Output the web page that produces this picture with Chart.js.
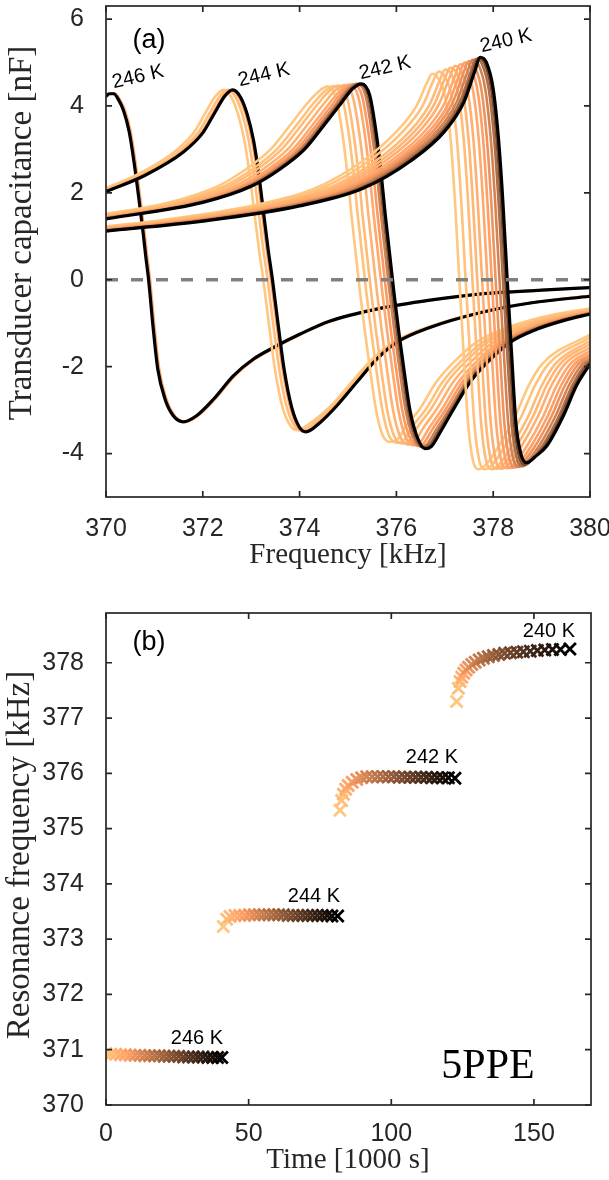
<!DOCTYPE html>
<html><head><meta charset="utf-8">
<script src="https://cdn.jsdelivr.net/npm/chart.js@4.4.1/dist/chart.umd.min.js"></script>
<style>
html,body{margin:0;padding:0;background:#fff;}
#wrap{position:relative;width:609px;height:1180px;overflow:hidden;background:#fff;}
canvas{position:absolute;left:0;}
#ca{top:0;} #cb{top:590px;}
</style></head><body>
<div id="wrap"><canvas id="ca" width="609" height="590"></canvas><canvas id="cb" width="609" height="590"></canvas></div>
<script>
// ---------- tick labels ----------
const freqTicks=[370,372,374,376,378,380];
const capTicks=[-4,-2,0,2,4,6];
const timeTicks=[0,50,100,150];
const resTicks=[370,371,372,373,374,375,376,377,378];

// ---------- panel (a): capacitance sweeps (frequency kHz / capacitance nF) ----------
// 246 K
const f246=[
 [370.00,370.09,370.19,370.29,370.39,370.51,370.61,370.71,370.80,370.85,370.91,371.00,371.10,371.25,371.42,371.63,371.90,372.25,372.66,373.07,373.49,374.04,374.66,375.69,376.72,377.83,379.03,380.00],
 [370.00,370.06,370.16,370.26,370.36,370.48,370.58,370.68,370.77,370.82,370.88,370.97,371.07,371.22,371.39,371.60,371.87,372.22,372.63,373.04,373.46,374.01,374.63,375.66,376.69,377.80,379.00,380.00]];
const c246=[
 [4.20,4.28,4.28,4.14,3.90,3.40,2.70,1.86,1.05,0.55,0.00,-1.06,-2.06,-2.75,-3.13,-3.27,-3.13,-2.75,-2.21,-1.83,-1.56,-1.25,-0.95,-0.66,-0.47,-0.32,-0.24,-0.18],
 [4.22,4.28,4.28,4.14,3.90,3.40,2.70,1.86,1.05,0.55,0.00,-1.06,-2.06,-2.75,-3.13,-3.27,-3.13,-2.75,-2.21,-1.83,-1.56,-1.25,-0.95,-0.66,-0.47,-0.32,-0.24,-0.18]];
const shade246=[0.85,0];

// 244 K
const f244=[
 [369.81,370.61,371.41,371.81,372.06,372.26,372.43,372.59,372.73,372.86,372.97,373.07,373.16,373.25,373.37,373.49,373.65,373.81,373.94,374.28,374.65,375.07,375.50,375.93,376.63,377.68,378.76,380.00],
 [369.90,370.70,371.50,371.90,372.15,372.35,372.52,372.68,372.82,372.95,373.06,373.16,373.25,373.34,373.46,373.58,373.74,373.90,374.03,374.35,374.71,375.13,375.55,375.97,376.66,377.71,378.78,380.00],
 [369.97,370.77,371.57,371.97,372.22,372.42,372.59,372.75,372.89,373.02,373.13,373.23,373.32,373.41,373.53,373.65,373.81,373.97,374.10,374.40,374.76,375.17,375.58,376.00,376.69,377.73,378.80,380.00],
 [370.00,370.80,371.60,372.00,372.25,372.45,372.62,372.78,372.92,373.05,373.16,373.26,373.35,373.44,373.56,373.68,373.84,374.00,374.13,374.42,374.77,375.18,375.59,376.01,376.69,377.73,378.80,380.00]];
const c244=[
 [2.03,2.40,2.94,3.38,3.85,4.22,4.37,4.20,3.80,3.20,2.40,1.50,0.70,0.00,-1.06,-2.06,-2.95,-3.36,-3.46,-3.25,-2.90,-2.36,-1.83,-1.44,-1.10,-0.76,-0.53,-0.37],
 [2.03,2.40,2.94,3.38,3.85,4.22,4.37,4.20,3.80,3.20,2.40,1.50,0.70,0.00,-1.06,-2.06,-2.95,-3.37,-3.47,-3.26,-2.90,-2.36,-1.83,-1.44,-1.10,-0.76,-0.53,-0.37],
 [2.03,2.40,2.94,3.38,3.85,4.22,4.37,4.20,3.80,3.20,2.40,1.50,0.70,0.00,-1.06,-2.06,-2.95,-3.40,-3.50,-3.29,-2.90,-2.36,-1.83,-1.44,-1.10,-0.76,-0.53,-0.38],
 [2.03,2.40,2.94,3.38,3.85,4.22,4.37,4.20,3.80,3.20,2.40,1.50,0.70,0.00,-1.06,-2.06,-2.95,-3.40,-3.50,-3.29,-2.90,-2.36,-1.83,-1.44,-1.10,-0.76,-0.53,-0.38]];
const shade244=[1.0,0.95,0.8,0];

// 242 K
const f242=[
 [369.30,371.30,372.30,372.90,373.40,373.80,374.15,374.40,374.58,374.75,374.88,374.98,375.07,375.17,375.25,375.35,375.46,375.58,375.72,375.89,376.02,376.20,376.48,376.82,377.20,377.65,378.20,378.75,379.30,380],
 [369.43,371.43,372.43,373.03,373.53,373.93,374.28,374.53,374.71,374.88,375.01,375.11,375.20,375.30,375.38,375.48,375.59,375.71,375.85,376.02,376.15,376.33,376.61,376.95,377.33,377.78,378.33,378.88,379.43,380],
 [369.53,371.53,372.53,373.13,373.63,374.03,374.38,374.63,374.81,374.98,375.11,375.21,375.30,375.40,375.48,375.58,375.69,375.81,375.95,376.12,376.25,376.43,376.71,377.05,377.43,377.88,378.43,378.98,379.53,380],
 [369.65,371.65,372.65,373.25,373.75,374.15,374.50,374.75,374.93,375.10,375.23,375.33,375.42,375.52,375.60,375.70,375.81,375.93,376.07,376.24,376.37,376.55,376.83,377.17,377.55,378.00,378.55,379.10,379.65,380],
 [369.76,371.76,372.76,373.36,373.86,374.26,374.61,374.86,375.04,375.21,375.34,375.44,375.53,375.63,375.71,375.81,375.92,376.04,376.18,376.35,376.48,376.66,376.94,377.28,377.66,378.11,378.66,379.21,379.76,380],
 [369.84,371.84,372.84,373.44,373.94,374.34,374.69,374.94,375.12,375.29,375.42,375.52,375.61,375.71,375.79,375.89,376.00,376.12,376.26,376.43,376.56,376.74,377.02,377.36,377.74,378.19,378.74,379.29,379.84,380],
 [369.91,371.91,372.91,373.51,374.01,374.41,374.76,375.01,375.19,375.36,375.49,375.59,375.68,375.78,375.86,375.96,376.07,376.19,376.33,376.50,376.63,376.81,377.09,377.43,377.81,378.26,378.81,379.36,379.91,380],
 [369.96,371.96,372.96,373.56,374.06,374.46,374.81,375.06,375.24,375.41,375.54,375.64,375.73,375.83,375.91,376.01,376.12,376.24,376.38,376.55,376.68,376.86,377.14,377.48,377.86,378.31,378.86,379.41,379.96,380],
 [370.00,372.00,373.00,373.60,374.10,374.50,374.85,375.10,375.28,375.45,375.58,375.68,375.77,375.87,375.95,376.05,376.16,376.28,376.42,376.59,376.72,376.90,377.18,377.52,377.90,378.35,378.90,379.45,380.00]];
const c242=[
 [1.40,1.78,2.15,2.55,3.00,3.55,4.05,4.34,4.45,4.18,3.40,2.50,1.50,0.50,-0.30,-1.20,-2.10,-3.00,-3.59,-3.73,-3.68,-3.36,-2.98,-2.36,-1.88,-1.44,-1.14,-0.94,-0.79,-0.66],
 [1.40,1.78,2.15,2.55,3.00,3.55,4.05,4.35,4.46,4.19,3.40,2.50,1.50,0.50,-0.30,-1.20,-2.10,-3.00,-3.59,-3.75,-3.70,-3.38,-2.98,-2.36,-1.88,-1.44,-1.14,-0.94,-0.79,-0.69],
 [1.40,1.78,2.15,2.55,3.00,3.55,4.05,4.36,4.47,4.20,3.40,2.50,1.50,0.50,-0.30,-1.20,-2.10,-3.00,-3.59,-3.77,-3.72,-3.40,-2.98,-2.36,-1.88,-1.44,-1.14,-0.94,-0.79,-0.71],
 [1.40,1.78,2.15,2.55,3.00,3.55,4.05,4.37,4.48,4.21,3.40,2.50,1.50,0.50,-0.30,-1.20,-2.10,-3.00,-3.59,-3.79,-3.74,-3.42,-2.98,-2.36,-1.88,-1.44,-1.14,-0.94,-0.79,-0.73],
 [1.40,1.78,2.15,2.55,3.00,3.55,4.05,4.38,4.49,4.22,3.40,2.50,1.50,0.50,-0.30,-1.20,-2.10,-3.00,-3.59,-3.81,-3.76,-3.44,-2.98,-2.36,-1.88,-1.44,-1.14,-0.94,-0.79,-0.75],
 [1.40,1.78,2.15,2.55,3.00,3.55,4.05,4.39,4.50,4.23,3.40,2.50,1.50,0.50,-0.30,-1.20,-2.10,-3.00,-3.59,-3.82,-3.77,-3.45,-2.98,-2.36,-1.88,-1.44,-1.14,-0.94,-0.79,-0.76],
 [1.40,1.78,2.15,2.55,3.00,3.55,4.05,4.40,4.51,4.24,3.40,2.50,1.50,0.50,-0.30,-1.20,-2.10,-3.00,-3.59,-3.84,-3.79,-3.47,-2.98,-2.36,-1.88,-1.44,-1.14,-0.94,-0.79,-0.77],
 [1.40,1.78,2.15,2.55,3.00,3.55,4.05,4.40,4.51,4.24,3.40,2.50,1.50,0.50,-0.30,-1.20,-2.10,-3.00,-3.59,-3.86,-3.81,-3.49,-2.98,-2.36,-1.88,-1.44,-1.14,-0.94,-0.79,-0.78],
 [1.40,1.78,2.15,2.55,3.00,3.55,4.05,4.40,4.51,4.24,3.40,2.50,1.50,0.50,-0.30,-1.20,-2.10,-3.00,-3.59,-3.89,-3.84,-3.52,-2.98,-2.36,-1.88,-1.44,-1.14,-0.94,-0.79]];
const shade242=[1.0,0.97,0.94,0.90,0.85,0.78,0.65,0.45,0];

// 240 K
const f240=[
 [369.01,371.01,373.01,374.31,375.31,376.01,376.41,376.63,376.74,376.87,377.01,377.12,377.21,377.30,377.39,377.48,377.58,377.70,377.87,378.12,378.46,378.73,379.01,380],
 [369.14,371.14,373.14,374.44,375.44,376.14,376.54,376.76,376.87,377.00,377.14,377.25,377.34,377.43,377.52,377.61,377.71,377.83,378.00,378.25,378.59,378.86,379.14,380],
 [369.28,371.28,373.28,374.58,375.58,376.28,376.68,376.90,377.01,377.14,377.28,377.39,377.48,377.57,377.66,377.75,377.85,377.97,378.14,378.39,378.73,379.00,379.28,380],
 [369.38,371.38,373.38,374.68,375.68,376.38,376.78,377.00,377.11,377.24,377.38,377.49,377.58,377.67,377.76,377.85,377.95,378.07,378.24,378.49,378.83,379.10,379.38,380],
 [369.48,371.48,373.48,374.78,375.78,376.48,376.88,377.10,377.21,377.34,377.48,377.59,377.68,377.77,377.86,377.95,378.05,378.17,378.34,378.59,378.93,379.20,379.48,380],
 [369.59,371.59,373.59,374.89,375.89,376.59,376.99,377.21,377.32,377.45,377.59,377.70,377.79,377.88,377.97,378.06,378.16,378.28,378.45,378.70,379.04,379.31,379.59,380],
 [369.68,371.68,373.68,374.98,375.98,376.68,377.08,377.30,377.41,377.54,377.68,377.79,377.88,377.97,378.06,378.15,378.25,378.37,378.54,378.79,379.13,379.40,379.68,380],
 [369.76,371.76,373.76,375.06,376.06,376.76,377.16,377.38,377.49,377.62,377.76,377.87,377.96,378.05,378.14,378.23,378.33,378.45,378.62,378.87,379.21,379.48,379.76,380],
 [369.84,371.84,373.84,375.14,376.14,376.84,377.24,377.46,377.57,377.70,377.84,377.95,378.04,378.13,378.22,378.31,378.41,378.53,378.70,378.95,379.29,379.56,379.84,380],
 [369.91,371.91,373.91,375.21,376.21,376.91,377.31,377.53,377.64,377.77,377.91,378.02,378.11,378.20,378.29,378.38,378.48,378.60,378.77,379.02,379.36,379.63,379.91,380],
 [369.96,371.96,373.96,375.26,376.26,376.96,377.36,377.58,377.69,377.82,377.96,378.07,378.16,378.25,378.34,378.43,378.53,378.65,378.82,379.07,379.41,379.68,379.96,380],
 [370.00,372.00,374.00,375.30,376.30,377.00,377.40,377.62,377.73,377.86,378.00,378.11,378.20,378.29,378.38,378.47,378.57,378.69,378.86,379.11,379.45,379.72,380.00]];
const c240=[
 [1.12,1.35,1.70,2.10,2.74,3.42,3.99,4.53,4.74,4.62,4.20,3.24,1.80,0,-1.70,-3.30,-4.15,-4.36,-4.23,-3.82,-3.13,-2.44,-1.94,-1.26],
 [1.12,1.35,1.70,2.10,2.74,3.42,4.00,4.57,4.79,4.67,4.23,3.24,1.80,0,-1.70,-3.30,-4.15,-4.36,-4.23,-3.82,-3.13,-2.44,-1.94,-1.33],
 [1.12,1.35,1.70,2.10,2.74,3.42,4.02,4.60,4.84,4.72,4.25,3.24,1.80,0,-1.70,-3.30,-4.15,-4.36,-4.23,-3.82,-3.13,-2.44,-1.94,-1.41],
 [1.12,1.35,1.70,2.10,2.74,3.42,4.03,4.63,4.88,4.76,4.27,3.24,1.80,0,-1.70,-3.30,-4.14,-4.35,-4.22,-3.82,-3.13,-2.44,-1.94,-1.48],
 [1.12,1.35,1.70,2.10,2.74,3.42,4.04,4.66,4.92,4.80,4.29,3.24,1.80,0,-1.70,-3.30,-4.14,-4.35,-4.22,-3.82,-3.13,-2.44,-1.94,-1.56],
 [1.12,1.35,1.70,2.10,2.74,3.42,4.05,4.69,4.96,4.84,4.31,3.24,1.80,0,-1.70,-3.30,-4.13,-4.34,-4.21,-3.82,-3.13,-2.44,-1.94,-1.64],
 [1.12,1.35,1.70,2.10,2.74,3.42,4.06,4.72,5.00,4.88,4.33,3.24,1.80,0,-1.70,-3.30,-4.12,-4.33,-4.20,-3.82,-3.13,-2.44,-1.94,-1.71],
 [1.12,1.35,1.70,2.10,2.74,3.42,4.07,4.74,5.03,4.91,4.35,3.24,1.80,0,-1.70,-3.30,-4.11,-4.32,-4.19,-3.82,-3.13,-2.44,-1.94,-1.77],
 [1.12,1.35,1.70,2.10,2.74,3.42,4.08,4.76,5.06,4.94,4.36,3.24,1.80,0,-1.70,-3.30,-4.10,-4.31,-4.18,-3.82,-3.13,-2.44,-1.94,-1.83],
 [1.12,1.35,1.70,2.10,2.74,3.42,4.09,4.77,5.08,4.96,4.37,3.24,1.80,0,-1.70,-3.30,-4.08,-4.29,-4.16,-3.82,-3.13,-2.44,-1.94,-1.88],
 [1.12,1.35,1.70,2.10,2.74,3.42,4.09,4.79,5.10,4.98,4.38,3.24,1.80,0,-1.70,-3.30,-4.05,-4.26,-4.13,-3.82,-3.13,-2.44,-1.94,-1.91],
 [1.12,1.35,1.70,2.10,2.74,3.42,4.10,4.80,5.12,5.00,4.39,3.24,1.80,0.00,-1.70,-3.30,-4.00,-4.21,-4.08,-3.82,-3.13,-2.44,-1.94]];
const shade240=[1.0,0.97,0.94,0.91,0.88,0.85,0.80,0.74,0.66,0.55,0.38,0];

// ---------- panel (b): resonance frequency vs time ----------
const time246=[0,1.7,3.4,5.1,6.8,8.5,10.2,11.9,13.6,15.3,17,18.7,20.4,22.1,23.8,25.5,27.2,28.9,30.6,32.3,34,35.7,37.4,39.1,40.6];
const res246=[370.93,370.92,370.92,370.91,370.91,370.90,370.90,370.90,370.89,370.89,370.89,370.89,370.88,370.88,370.88,370.88,370.87,370.87,370.87,370.87,370.87,370.86,370.86,370.86,370.86];
const time244=[41.1,42.3,43.5,45.2,46.9,48.6,50.3,52.0,53.7,55.4,57.1,58.8,60.5,62.2,63.9,65.6,67.3,69.0,70.7,72.4,74.1,75.8,77.5,79.2,81.2];
const res244=[373.23,373.36,373.41,373.43,373.43,373.43,373.44,373.44,373.44,373.44,373.44,373.44,373.44,373.44,373.43,373.43,373.43,373.43,373.43,373.43,373.43,373.43,373.43,373.42,373.42];
const time242=[82.0,82.6,83.2,84.0,84.9,86.3,87.9,89.6,91.4,93.3,95.2,97.1,99.0,100.9,102.8,104.7,106.6,108.5,110.4,112.3,114.2,116.1,118.0,120.0,122.3];
const res242=[375.33,375.51,375.62,375.71,375.78,375.84,375.89,375.92,375.94,375.94,375.94,375.94,375.94,375.94,375.93,375.93,375.93,375.93,375.93,375.93,375.92,375.92,375.92,375.92,375.91];
const time240=[122.9,123.5,124.1,124.7,125.4,126.2,127.1,128.2,129.4,130.8,132.3,134.0,135.8,137.7,139.7,141.8,144.0,146.3,148.7,151.2,153.8,156.5,159.3,162.6];
const res240=[377.30,377.54,377.66,377.74,377.81,377.87,377.92,377.97,378.01,378.05,378.08,378.11,378.13,378.15,378.17,378.18,378.19,378.20,378.21,378.22,378.23,378.24,378.24,378.25];

// ---------- helpers ----------
function copper(v){
  const r=Math.min(1,1.25*v), g=0.7812*v, b=0.4975*v;
  return 'rgb('+Math.round(r*255)+','+Math.round(g*255)+','+Math.round(b*255)+')';
}
const AX='#262626';
const sans='"Liberation Sans", Arial, sans-serif';
const serif='"Liberation Serif", "Times New Roman", serif';

const boxPlugin={
  id:'boxPlugin',
  afterDatasetsDraw(chart,args,opts){
    const ctx=chart.ctx, a=chart.chartArea, ys=chart.scales.y;
    if(opts.zero){
      const p=ys.getPixelForValue(0);
      ctx.save();
      ctx.strokeStyle='#808080'; ctx.lineWidth=3.6; ctx.setLineDash([12,13]);
      ctx.beginPath(); ctx.moveTo(a.left,p); ctx.lineTo(a.right,p); ctx.stroke();
      ctx.restore();
    }
  },
  afterDraw(chart,args,opts){
    const ctx=chart.ctx, a=chart.chartArea, xs=chart.scales.x, ys=chart.scales.y;
    ctx.save();
    ctx.strokeStyle=AX; ctx.lineWidth=1.7;
    ctx.strokeRect(a.left,a.top,a.right-a.left,a.bottom-a.top);
    const tl=6;
    ctx.beginPath();
    opts.xt.forEach(v=>{const p=xs.getPixelForValue(v);
      ctx.moveTo(p,a.bottom);ctx.lineTo(p,a.bottom-tl);ctx.moveTo(p,a.top);ctx.lineTo(p,a.top+tl);});
    opts.yt.forEach(v=>{const p=ys.getPixelForValue(v);
      ctx.moveTo(a.left,p);ctx.lineTo(a.left+tl,p);ctx.moveTo(a.right,p);ctx.lineTo(a.right-tl,p);});
    ctx.stroke();
    opts.texts.forEach(t=>{
      ctx.save();
      ctx.translate(t.x,t.y);
      if(t.rot) ctx.rotate(t.rot*Math.PI/180);
      ctx.font=t.size+'px '+(t.serif?serif:sans);
      ctx.fillStyle=t.color||'#000';
      ctx.textAlign='center';
      ctx.textBaseline=t.base||'middle';
      ctx.fillText(t.t,0,0);
      ctx.restore();
    });
    ctx.restore();
  }
};

function scaleX(min,max,ticks,h,pad){
  return {type:'linear',min:min,max:max,
    afterBuildTicks:s=>{s.ticks=ticks.map(v=>({value:v}));},
    afterFit:s=>{s.height=h;s.paddingLeft=0;s.paddingRight=0;},
    grid:{display:false},border:{display:false},
    ticks:{autoSkip:false,maxRotation:0,padding:pad,color:AX,font:{family:sans,size:25}}};
}
function scaleY(min,max,ticks){
  return {type:'linear',min:min,max:max,
    afterBuildTicks:s=>{s.ticks=ticks.map(v=>({value:v}));},
    afterFit:s=>{s.width=106;s.paddingTop=0;s.paddingBottom=0;},
    grid:{display:false},border:{display:false},
    ticks:{autoSkip:false,padding:14,color:AX,font:{family:sans,size:25}}};
}

// ---------- panel (a) datasets ----------
const groupF=[f246,f244,f242,f240], groupC=[c246,c244,c242,c240], groupS=[shade246,shade244,shade242,shade240];
const dsA=[]; let k=0;
groupF.forEach((gf,gi)=>{
  gf.forEach((fa,ci)=>{
    const ca=groupC[gi][ci], v=groupS[gi][ci];
    const pts=[]; fa.forEach((x,i)=>{ if(ca[i]!==undefined) pts.push({x:x,y:ca[i]}); });
    dsA.push({data:pts,borderColor:copper(v),borderWidth:v===0?3.2:2.6,pointRadius:0,
      cubicInterpolationMode:'monotone',fill:false,clip:0,order:-(k++)});
  });
});

new Chart(document.getElementById('ca'),{
  type:'line',
  data:{datasets:dsA},
  options:{responsive:false,animation:false,devicePixelRatio:1,
    layout:{autoPadding:false,padding:{top:6,right:19,left:0,bottom:0}},
    scales:{x:scaleX(370,380,freqTicks,93,9),y:scaleY(-5,6.3,capTicks)},
    plugins:{legend:{display:false},tooltip:{enabled:false},
      boxPlugin:{zero:true,xt:freqTicks,yt:capTicks,texts:[
        {t:'(a)',x:149,y:41,size:27},
        {t:'246 K',x:138,y:77,size:20,rot:-13},
        {t:'244 K',x:264,y:75,size:20,rot:-13},
        {t:'242 K',x:385,y:68,size:20,rot:-13},
        {t:'240 K',x:506,y:41,size:20,rot:-13},
        {t:'Frequency [kHz]',x:348,y:555,size:29,serif:true,color:AX},
        {t:'Transducer capacitance [nF]',x:22,y:233,size:33,serif:true,color:AX,rot:-90}
      ]}}},
  plugins:[boxPlugin]
});

// ---------- panel (b) datasets ----------
const timeG=[time246,time244,time242,time240], resG=[res246,res244,res242,res240];
const dsB=timeG.map((tg,gi)=>{
  const n=tg.length;
  const cols=tg.map((t,i)=>copper(1-i/(n-1)));
  return {data:tg.map((t,i)=>({x:t,y:resG[gi][i]})),showLine:false,pointStyle:'crossRot',
    pointRadius:8.5,pointBorderWidth:2.8,pointBorderColor:cols,pointBackgroundColor:cols,clip:0,order:-gi};
});

new Chart(document.getElementById('cb'),{
  type:'scatter',
  data:{datasets:dsB},
  options:{responsive:false,animation:false,devicePixelRatio:1,
    layout:{autoPadding:false,padding:{top:23,right:18,left:0,bottom:0}},
    scales:{x:scaleX(0,170,timeTicks,75,6),y:scaleY(370,378.9,resTicks)},
    plugins:{legend:{display:false},tooltip:{enabled:false},
      boxPlugin:{zero:false,xt:timeTicks,yt:resTicks,texts:[
        {t:'(b)',x:149,y:53,size:27},
        {t:'240 K',x:549,y:41,size:20},
        {t:'242 K',x:432,y:167,size:20},
        {t:'244 K',x:314,y:306,size:20},
        {t:'246 K',x:197,y:448,size:20},
        {t:'5PPE',x:488,y:488,size:42,serif:true,base:'alphabetic'},
        {t:'Time [1000 s]',x:348,y:570,size:29,serif:true,color:AX},
        {t:'Resonance frequency [kHz]',x:20,y:265,size:33,serif:true,color:AX,rot:-90}
      ]}}},
  plugins:[boxPlugin]
});
</script>
</body></html>
